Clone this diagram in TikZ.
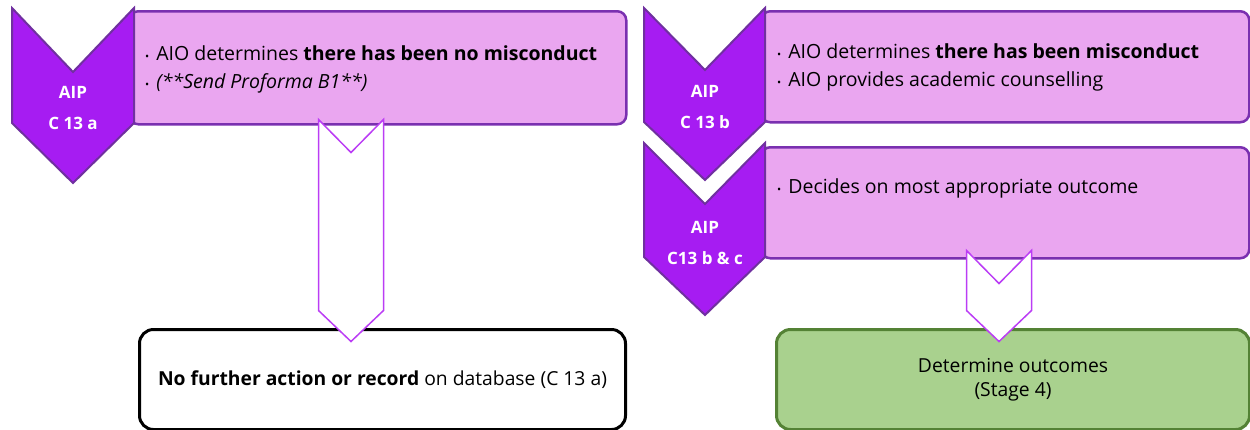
\documentclass[tikz,border=0pt]{standalone}
\usepackage{fontspec}
\setmainfont{Open Sans}
\usetikzlibrary{positioning,calc}

\definecolor{pinkfill}{HTML}{EAA6F0}
\definecolor{pinkline}{HTML}{7A30B0}
\definecolor{chevfill}{HTML}{A61CF2}
\definecolor{chevline}{HTML}{7030A0}
\definecolor{arrline}{HTML}{BB3DF5}
\definecolor{greenfill}{HTML}{A9D18E}
\definecolor{greenline}{HTML}{548235}

\newcommand{\bul}{{\fontsize{11}{11}\selectfont\textbullet}\hspace{7pt}}

\tikzset{
  pinkbox/.style={draw=pinkline, fill=pinkfill, line width=2.5pt, rounded corners=9pt,
    anchor=north west, inner sep=0pt},
  chevron/.style={draw=chevline, fill=chevfill, line width=2pt},
  chevlabel/.style={text=white, font=\fontsize{17}{31}\selectfont\bfseries, align=center},
  listtext/.style={font=\fontsize{19.5}{28}\selectfont, align=left, inner sep=0pt},
  downarrow/.style={draw=arrline, fill=white, line width=1.5pt},
  endbox/.style={rounded corners=14pt, line width=3pt, anchor=north west, inner sep=0pt,
    font=\fontsize{19.3}{24}\selectfont, align=center}
}

\begin{document}
\begin{tikzpicture}[x=1pt,y=-1pt]
  \useasboundingbox (0,0) rectangle (1250,429);

  %% Boxes
  \node[pinkbox, minimum width=497pt, minimum height=113pt] (boxA) at (128,10) {};
  \node[pinkbox, minimum width=488pt, minimum height=111pt] (boxB) at (760,10) {};
  \node[pinkbox, minimum width=488pt, minimum height=111pt] (boxC) at (760,146) {};

  \node[listtext, below right=35pt and 17pt of boxA.north west] (textA)
    {\bul AIO determines \textbf{there has been no misconduct}\\
     \bul\textit{(**Send Proforma B1**)}};
  \node[listtext, below right=33pt and 17pt of boxB.north west] (textB)
    {\bul AIO determines \textbf{there has been misconduct}\\
     \bul AIO provides academic counselling};
  \node[listtext, below right=32pt and 17pt of boxC.north west] (textC)
    {\bul Decides on most appropriate outcome};

  %% Chevrons
  \draw[chevron] (12,8) -- (73,72) -- (134,8) -- (134,123) -- (73,183) -- (12,123) -- cycle;
  \draw[chevron] (644,8) -- (705,70) -- (765,8) -- (765,122) -- (705,180) -- (644,122) -- cycle;
  \draw[chevron] (644,143) -- (705,204) -- (765,143) -- (765,257) -- (705,315) -- (644,257) -- cycle;

  \node[chevlabel] (aipA) at (73,108) {AIP\\C 13 a};
  \node[chevlabel] (aipB) at (705,107) {AIP\\C 13 b};
  \node[chevlabel] (aipC) at (705,243) {AIP\\C13 b \& c};

  %% End boxes
  \node[endbox, draw=black, fill=white, minimum width=486pt, minimum height=100pt] (endA) at (138,328)
    {\textbf{No further action or record} on database (C 13 a)};
  \node[endbox, draw=greenline, fill=greenfill, minimum width=473pt, minimum height=100pt] (endB) at (775,328)
    {Determine outcomes\\(Stage 4)};

  %% Arrows
  \draw[downarrow] let \p1=(351,0 |- boxA.south), \p2=(351,0 |- endA.north) in
    (\x1-32.5pt,\y1+6pt) -- (\x1,\y1-27pt) -- (\x1+32.5pt,\y1+6pt) -- (\x1+32.5pt,\y2+17.5pt)
    -- (\x2,\y2-13.5pt) -- (\x1-32.5pt,\y2+17.5pt) -- cycle;
  \draw[downarrow] let \p1=(999,0 |- boxC.south), \p2=(999,0 |- endB.north) in
    (\x1-32.5pt,\y1+9pt) -- (\x1,\y1-24pt) -- (\x1+32.5pt,\y1+9pt) -- (\x1+32.5pt,\y2+17.5pt)
    -- (\x2,\y2-13.5pt) -- (\x1-32.5pt,\y2+17.5pt) -- cycle;
\end{tikzpicture}
\end{document}
